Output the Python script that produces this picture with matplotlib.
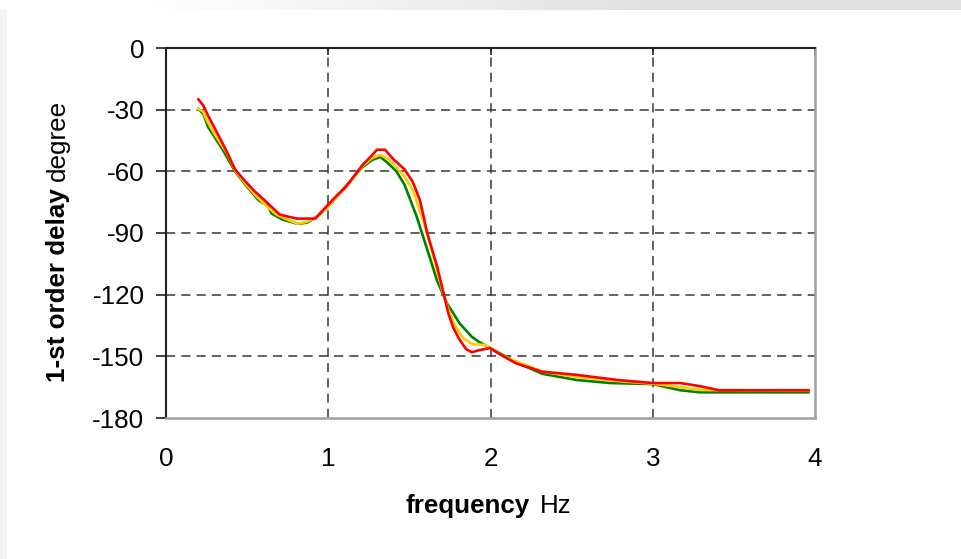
import numpy as np
import matplotlib
matplotlib.use("Agg")
import matplotlib.pyplot as plt

plt.rcParams['font.family'] = ['Liberation Sans', 'DejaVu Sans']

# ---- data ----
red_x = [0.20, 0.23, 0.26, 0.32, 0.375, 0.425, 0.49, 0.55, 0.62, 0.70, 0.75, 0.81, 0.92, 0.99,
         1.05, 1.11, 1.21, 1.26, 1.30, 1.35, 1.40, 1.47, 1.52, 1.565, 1.61, 1.67, 1.71, 1.74,
         1.77, 1.81, 1.85, 1.885, 1.93, 1.996, 2.08, 2.16, 2.32, 2.53, 2.78, 3.0, 3.17, 3.29,
         3.41, 3.96]
red_y = [-25, -28, -33, -42, -50.5, -59, -65, -70, -75, -81, -82, -83, -83, -77,
         -72, -67.5, -57, -53, -49.5, -49.5, -54, -59, -65, -74, -90, -106, -119, -129,
         -136, -142, -146.5, -148, -147, -146, -150, -153.5, -157.5, -159, -161.5, -163, -163, -164.5,
         -166.5, -166.5]

green_x = [0.20, 0.23, 0.26, 0.35, 0.425, 0.50, 0.57, 0.63, 0.65, 0.72, 0.81, 0.87, 0.93, 0.99,
           1.11, 1.21, 1.27, 1.32, 1.36, 1.42, 1.47, 1.545, 1.61, 1.67, 1.73, 1.81, 1.885, 1.93,
           2.0, 2.16, 2.32, 2.53, 2.74, 3.0, 3.17, 3.29, 3.96]
green_y = [-29.7, -32, -38.5, -49.5, -60, -67.5, -74, -77, -80.5, -83.5, -85.5, -85, -82, -78,
           -67, -58, -54.5, -53, -55.4, -60, -66.5, -82, -98, -113, -124, -134, -140.5, -143,
           -146, -153, -158.5, -161.5, -163, -163.5, -166.5, -167.5, -167.5]

yellow_x = [0.20, 0.23, 0.25, 0.30, 0.375, 0.425, 0.49, 0.55, 0.62, 0.68, 0.75, 0.81, 0.87, 0.93,
            0.99, 1.11, 1.21, 1.27, 1.32, 1.37, 1.42, 1.47, 1.52, 1.59, 1.65, 1.70, 1.74, 1.78,
            1.83, 1.885, 1.97, 2.08, 2.16, 2.32, 2.53, 2.78, 3.0, 3.17, 3.29, 3.96]
yellow_y = [-29.7, -31, -35, -42, -51, -59.5, -66, -71.5, -77, -81, -83.5, -85.5, -84.5, -82,
            -78, -67.5, -57.5, -53.5, -52, -54, -58, -62.5, -69, -85, -102, -117, -127, -135,
            -141, -144, -144.5, -150, -152.5, -157.5, -160, -162, -163.3, -165, -166.4, -166.6]

x_ticks = [0, 1, 2, 3, 4]
y_ticks = [0, -30, -60, -90, -120, -150, -180]
y_grid = [-30, -60, -90, -120, -150]
x_grid = [1, 2, 3]

FS = 18.7
W, H = 962, 559
fig = plt.figure(figsize=(W / 100, H / 100), dpi=100)
fig.patch.set_facecolor('white')

# light gray frame strips (top and left) of the reference screenshot
top = np.ones((10, W, 3))
g = np.clip((np.arange(W) - 150) / 500.0, 0, 1)
shade = 1 - 0.12 * g
top[:, :, :] = shade[None, :, None]
fig.figimage(top, xo=0, yo=H - 10, zorder=0)
left = np.ones((H - 10, 7, 3)) * 0.955
fig.figimage(left, xo=0, yo=0, zorder=0)

ax = fig.add_axes([166 / W, 1 - 418 / H, (815 - 166) / W, (418 - 48) / H])
ax.set_facecolor('white')

ax.plot(green_x, green_y, color='#008000', lw=1.9, zorder=3)
ax.plot(yellow_x, yellow_y, color='#FFCC00', lw=1.9, zorder=4)
ax.plot(red_x, red_y, color='#FF0000', lw=1.9, zorder=5)

for yv in y_grid:
    ax.axhline(yv, color='#383838', lw=1.1, dashes=(6, 4), zorder=1)
for xv in x_grid:
    ax.axvline(xv, color='#383838', lw=1.1, dashes=(6, 4), zorder=1)

ax.set_xlim(0, 4)
ax.set_ylim(-180, 0)
ax.set_xticks(x_ticks)
ax.set_yticks(y_ticks)
ax.set_xticklabels([str(v) for v in x_ticks])
ax.set_yticklabels([str(v) for v in y_ticks])

ax.tick_params(axis='x', which='both', bottom=False, top=True, labelbottom=True,
               labeltop=False, direction='in', length=5, width=1.2, color='#202020',
               pad=21, labelsize=FS)
ax.tick_params(axis='y', which='both', left=True, right=False, direction='out',
               length=7, width=1.2, color='#202020', pad=8.5, labelsize=FS)

ax.spines['top'].set_color('#202020')
ax.spines['left'].set_color('#202020')
ax.spines['top'].set_linewidth(1.5)
ax.spines['left'].set_linewidth(1.5)
ax.spines['right'].set_color('#a0a0a0')
ax.spines['bottom'].set_color('#a0a0a0')
ax.spines['right'].set_linewidth(1.8)
ax.spines['bottom'].set_linewidth(1.8)

# axis labels with mixed bold / regular parts
fig.canvas.draw()
r = fig.canvas.get_renderer()
t1 = fig.text(406, 46, 'frequency', transform=None, fontsize=FS, fontweight='bold',
              ha='left', va='baseline')
fig.canvas.draw()
bb = t1.get_window_extent(r)
fig.text(bb.x1 + 10, 46, 'Hz', transform=None, fontsize=FS, ha='left', va='baseline')

u1 = fig.text(65, H - 382, '1-st order delay', transform=None, fontsize=FS, fontweight='bold',
              rotation=90, rotation_mode='anchor', ha='left', va='baseline')
fig.canvas.draw()
bb2 = u1.get_window_extent(r)
fig.text(65, bb2.y1 + 7, 'degree', transform=None, fontsize=FS, rotation=90,
         rotation_mode='anchor', ha='left', va='baseline')

fig.savefig('out.png', dpi=100)
